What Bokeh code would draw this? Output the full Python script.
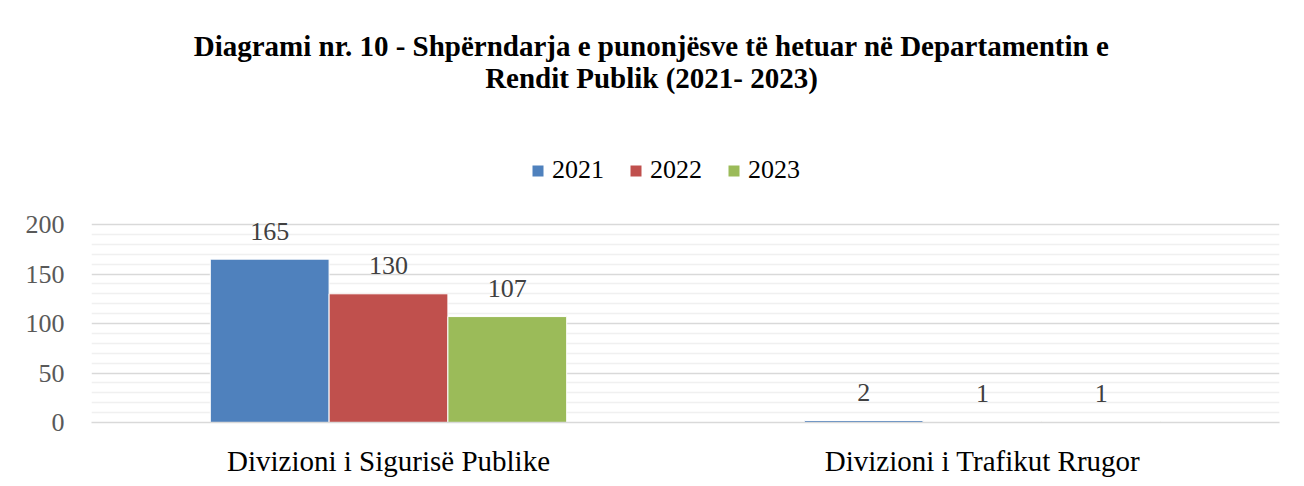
from bokeh.plotting import figure
from bokeh.models import (ColumnDataSource, LabelSet, Legend, LegendItem, Range1d, FactorRange,
                          Label, FixedTicker)
from bokeh.transform import dodge
from bokeh.embed import file_html
from bokeh.resources import INLINE

categories = ["Divizioni i Sigurisë Publike", "Divizioni i Trafikut Rrugor"]
years = ["2021", "2022", "2023"]
v2021 = [165, 2]
v2022 = [130, 1]
v2023 = [107, 1]
colors = ["#4f81bd", "#c0504d", "#9bbb59"]
y_ticks = [0, 50, 100, 150, 200]
y_minor = [v for v in range(0, 201, 10) if v % 50]
title_lines = ["Diagrami nr. 10 - Shpërndarja e punonjësve të hetuar në Departamentin e",
               "Rendit Publik (2021- 2023)"]

FONT = "Liberation Serif"
FS = "26px"

# layout (pixels)
FRAME_H = 422          # frame height: top of figure to x axis
AXIS_PX = 198          # pixels spanned by 0..200

src = ColumnDataSource(dict(cat=categories, y2021=v2021, y2022=v2022, y2023=v2023,
                            t2021=[str(v) for v in v2021],
                            t2022=[str(v) for v in v2022],
                            t2023=[str(v) for v in v2023]))

p = figure(x_range=FactorRange(*categories),
           y_range=Range1d(0, y_ticks[-1] * FRAME_H / AXIS_PX),
           width=1296, height=486, output_backend="svg", toolbar_location=None,
           title_location=None,
           min_border_left=91, min_border_right=17, min_border_bottom=64, min_border_top=0)

offsets = [-0.2, 0.0, 0.2]
items = []
for yr, off, col in zip(years, offsets, colors):
    r = p.vbar(x=dodge("cat", off, range=p.x_range), top="y" + yr, width=0.2, source=src,
               fill_color=col, line_color="white", line_width=1)
    items.append(LegendItem(label=yr, renderers=[r]))
    lbl = LabelSet(x=dodge("cat", off, range=p.x_range), y="y" + yr, text="t" + yr, source=src,
                   text_align="center", text_baseline="middle", y_offset=28,
                   text_font=FONT, text_font_size=FS, text_color="#404040")
    p.add_layout(lbl)

legend = Legend(items=items, orientation="horizontal", location=(439, 237),
                label_text_font="Times New Roman", label_text_font_size=FS,
                label_text_color="#000000",
                glyph_width=15, glyph_height=15, spacing=24, label_standoff=7,
                border_line_color=None, background_fill_alpha=0, margin=0, padding=0)
p.add_layout(legend, "center")

for i, t in enumerate(title_lines):
    p.add_layout(Label(x=560, y=FRAME_H - 45 - 32 * i, x_units="screen", y_units="screen", text=t,
                       text_align="center", text_baseline="middle", text_font=FONT,
                       text_font_size="29px", text_font_style="bold", text_color="#000000"))

p.yaxis.ticker = FixedTicker(ticks=y_ticks, minor_ticks=y_minor)
p.xgrid.grid_line_color = None
p.ygrid.grid_line_color = "#d9d9d9"
p.ygrid.grid_line_width = 1.5
p.ygrid.minor_grid_line_color = "#f0f0f0"
p.ygrid.minor_grid_line_width = 1.5
p.yaxis.axis_line_color = None
p.yaxis.major_tick_line_color = None
p.yaxis.minor_tick_line_color = None
p.yaxis.major_label_text_font = FONT
p.yaxis.major_label_text_font_size = FS
p.yaxis.major_label_text_color = "#595959"
p.yaxis.major_label_standoff = 21

p.xaxis.axis_line_color = "#d9d9d9"
p.xaxis.axis_line_width = 1.5
p.xaxis.major_tick_line_color = None
p.xaxis.minor_tick_line_color = None
p.xaxis.major_label_text_font = FONT
p.xaxis.major_label_text_font_size = "29px"
p.xaxis.major_label_text_color = "#000000"
p.xaxis.major_label_standoff = 16

p.x_range.range_padding = 0
p.outline_line_color = None

open("out.html", "w").write(file_html(p, INLINE))
